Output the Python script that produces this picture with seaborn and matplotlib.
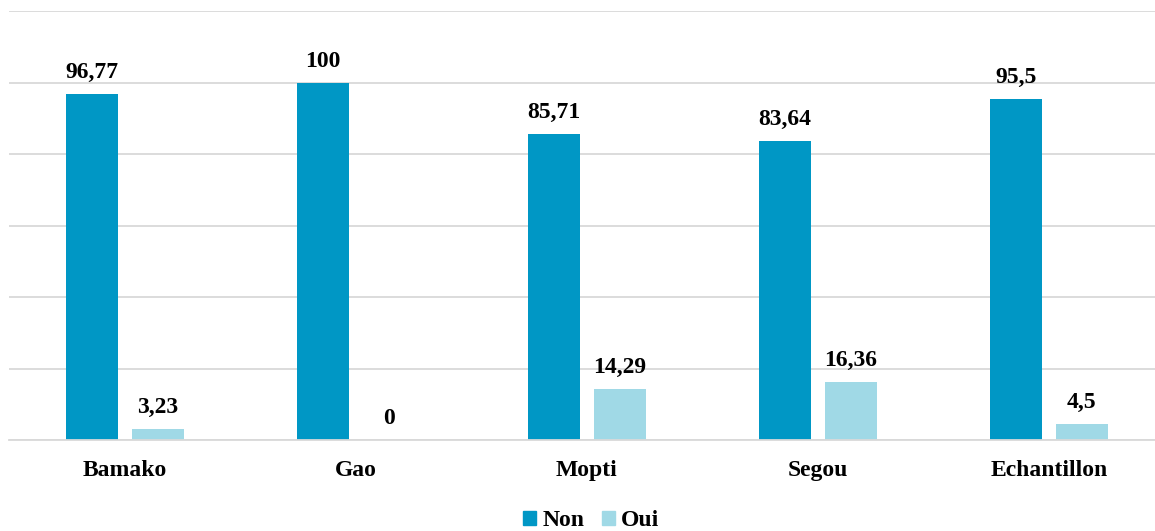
import pandas as pd
import matplotlib
matplotlib.use('Agg')
import matplotlib.pyplot as plt
import seaborn as sns

# Data
regions = ['Bamako', 'Gao', 'Mopti', 'Segou', 'Echantillon']
non_vals = [96.77, 100, 85.71, 83.64, 95.5]
oui_vals = [3.23, 0, 14.29, 16.36, 4.5]
series = ['Non', 'Oui']
colors = ['#0097C5', '#A0D9E6']

df = pd.DataFrame({
    'Region': regions * 2,
    'Reponse': ['Non'] * len(regions) + ['Oui'] * len(regions),
    'Valeur': non_vals + oui_vals,
})

sns.set_theme(style='white')
plt.rcParams['font.family'] = ['Liberation Serif', 'DejaVu Serif']
plt.rcParams['font.weight'] = 'bold'
plt.rcParams['text.color'] = 'black'
plt.rcParams['xtick.color'] = 'black'

fig = plt.figure(figsize=(11.55, 5.31), dpi=100)
ax = fig.add_axes([0.008, 0.171, 1.0, 0.808])

sns.barplot(data=df, x='Region', y='Valeur', hue='Reponse', hue_order=series,
            palette=colors, width=0.57, gap=0.21, saturation=1, linewidth=0,
            ax=ax, legend=False)

# value labels with comma as decimal separator
for cont, vals in zip(ax.containers, [non_vals, oui_vals]):
    labels = [('%g' % v).replace('.', ',') for v in vals]
    ax.bar_label(cont, labels=labels, padding=8, fontsize=17, fontweight='bold',
                 color='black')

ax.set_ylim(0, 120)
ax.set_xlim(-0.5, 4.5)
ax.set_yticks(range(0, 121, 20))
ax.set_yticklabels([])
ax.yaxis.grid(True, color='#d9d9d9', linewidth=1.3)
ax.set_axisbelow(True)
for s in ['top', 'right', 'left']:
    ax.spines[s].set_visible(False)
ax.spines['bottom'].set_color('#d9d9d9')
ax.spines['bottom'].set_linewidth(1.3)
ax.tick_params(axis='x', length=0, pad=14, labelsize=17, labelcolor='black')
ax.tick_params(axis='y', length=0)
for lbl in ax.get_xticklabels():
    lbl.set_fontweight('bold')
ax.set_xlabel('')
ax.set_ylabel('')

handles = [plt.Rectangle((0, 0), 1, 1, color=c) for c in colors]
fig.legend(handles, series, loc='lower center', bbox_to_anchor=(0.512, -0.04), ncol=2,
           frameon=False, handlelength=0.55, handleheight=0.55, handletextpad=0.25,
           columnspacing=0.75, prop={'size': 17, 'weight': 'bold'})

fig.savefig('out.png', dpi=100)
